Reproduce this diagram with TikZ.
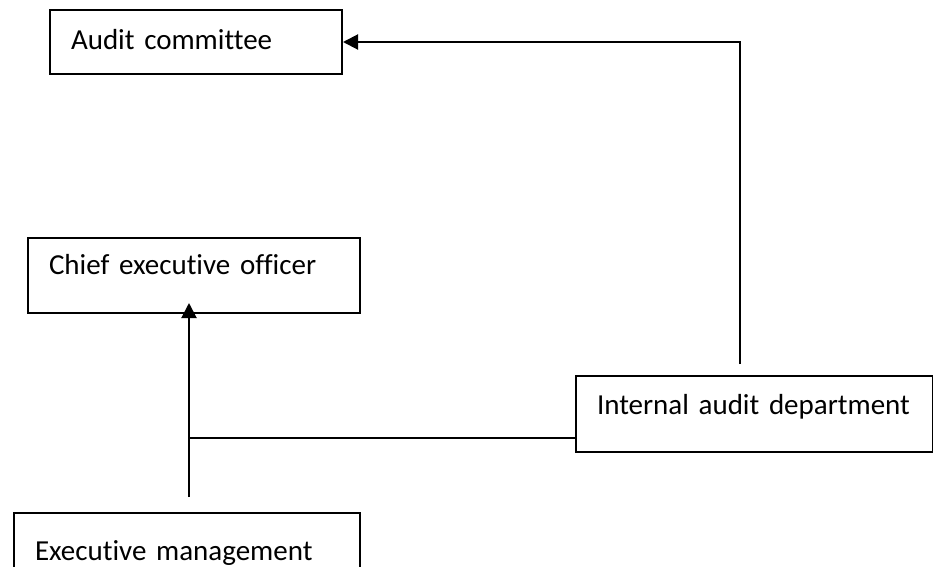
\documentclass[tikz,border=0pt]{standalone}
\usepackage{fontspec}
\setmainfont{Carlito}[Ligatures=CommonOff]
\usetikzlibrary{arrows.meta}
\tikzset{
  box/.style={rectangle, draw, line width=2pt, anchor=north west, inner xsep=21pt, inner ysep=0pt, align=left, font=\fontsize{29}{34}\selectfont},
  link/.style={line width=2pt},
  tip/.style={-{Triangle[length=15pt,width=15pt]}}
}

\begin{document}
\begin{tikzpicture}[x=1pt, y=-1pt]
    \clip (0,0) rectangle (933,566);
    \node[box, text width=250pt, text height=39pt, text depth=25pt] (ac) at (49,9) {Audit committee};
    \node[box, text width=290pt, text height=36pt, text depth=39pt] (ceo) at (27,237) {Chief executive officer};
    \node[box, text width=315pt, text height=38pt, text depth=38pt] (iad) at (575,375) {Internal audit department};
    \node[box, text width=304pt, text height=47pt, text depth=40pt] (em) at (13,512) {Executive management};
    %free ends of the connectors
    \coordinate (iadtop) at (740,364);
    \coordinate (emtop) at (189,497);
    \coordinate (ceotip) at (189,303);
    \coordinate (junc) at (189,438);
    \draw[link, tip] (iadtop) |- (ac.east);
    \draw[link, tip] (emtop) -- (ceotip);
    \draw[link] (junc) -- (junc -| iad.west);
\end{tikzpicture}
\end{document}
